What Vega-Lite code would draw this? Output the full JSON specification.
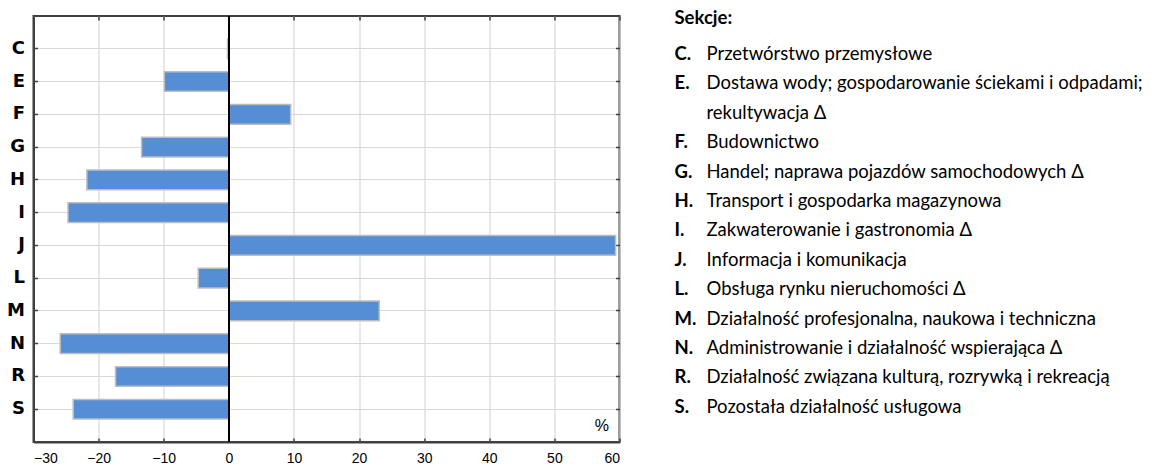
{
  "$schema": "https://vega.github.io/schema/vega-lite/v6.json",
  "padding": {"left": 5.5, "top": 9, "right": 0, "bottom": 0},
  "background": "white",
  "config": {"view": {"stroke": null}, "concat": {"spacing": 53}},
  "hconcat": [
    {
      "width": 586,
      "height": 426,
      "view": {"stroke": "#404040", "strokeWidth": 2},
      "data": {"values": [
        {"cat": "C", "value": -0.2},
        {"cat": "E", "value": -9.9},
        {"cat": "F", "value": 9.5},
        {"cat": "G", "value": -13.4},
        {"cat": "H", "value": -21.8},
        {"cat": "I", "value": -24.7},
        {"cat": "J", "value": 59.4},
        {"cat": "L", "value": -4.7},
        {"cat": "M", "value": 23.1},
        {"cat": "N", "value": -25.9},
        {"cat": "R", "value": -17.4},
        {"cat": "S", "value": -23.9}
      ]},
      "resolve": {"axis": {"x": "independent", "y": "independent"}},
      "layer": [
        {
          "mark": {"type": "bar", "color": "#558ED5", "stroke": "#BDBDBD", "strokeWidth": 1.5},
          "encoding": {
            "x": {"field": "value", "type": "quantitative",
              "scale": {"domain": [-30, 60], "nice": false, "zero": false},
              "axis": {"values": [-30, -20, -10, 0, 10, 20, 30, 40, 50, 60], "title": null,
                "grid": true, "gridColor": "#D9D9D9", "gridWidth": 1.2,
                "domainColor": "#404040", "domainWidth": 2,
                "tickColor": "#404040", "tickSize": -4, "tickWidth": 1.5,
                "labelFont": "Liberation Sans", "labelFontSize": 14, "labelColor": "#000000",
                "labelPadding": 13}},
            "y": {"field": "cat", "type": "nominal", "sort": null,
              "scale": {"paddingInner": 0.4, "paddingOuter": 0.7},
              "axis": {"title": null, "grid": true, "gridColor": "#D9D9D9", "gridWidth": 1.2,
                "domainColor": "#404040", "domainWidth": 2,
                "tickColor": "#404040", "tickSize": -4, "tickWidth": 1.5,
                "labelFont": "DejaVu Sans", "labelFontWeight": "bold", "labelFontSize": 18,
                "labelColor": "#000000", "labelPadding": 13}}
          }
        },
        {
          "mark": {"type": "rule", "color": "#000000", "strokeWidth": 1.2},
          "encoding": {
            "x": {"datum": 0, "type": "quantitative",
              "axis": {"orient": "top", "labels": false, "grid": false, "domain": false,
                "values": [-30, -20, -10, 0, 10, 20, 30, 40, 50, 60],
                "tickColor": "#404040", "tickSize": -4, "tickWidth": 1.5, "title": null}}
          }
        },
        {
          "data": {"values": [{"unit": "%", "cat": "S", "value": 57.3}]},
          "mark": {"type": "text", "font": "Liberation Sans", "fontSize": 16, "color": "#000000", "dy": 17, "align": "center", "baseline": "middle"},
          "encoding": {
            "x": {"field": "value", "type": "quantitative", "axis": null},
            "y": {"field": "cat", "type": "nominal",
              "axis": {"orient": "right", "labels": false, "grid": false, "domain": false,
                "tickColor": "#404040", "tickSize": -4, "tickWidth": 1.5, "title": null}},
            "text": {"field": "unit"}
          }
        }
      ]
    },
    {
      "width": 448,
      "height": 426,
      "data": {"values": [
        {"letter": "Sekcje:", "desc": "", "line": -1.22},
        {"letter": "C.", "desc": "Przetwórstwo przemysłowe", "line": 0},
        {"letter": "E.", "desc": "Dostawa wody; gospodarowanie ściekami i odpadami;", "line": 1},
        {"letter": "", "desc": "rekultywacja Δ", "line": 2},
        {"letter": "F.", "desc": "Budownictwo", "line": 3},
        {"letter": "G.", "desc": "Handel; naprawa pojazdów samochodowych Δ", "line": 4},
        {"letter": "H.", "desc": "Transport i gospodarka magazynowa", "line": 5},
        {"letter": "I.", "desc": "Zakwaterowanie i gastronomia Δ", "line": 6},
        {"letter": "J.", "desc": "Informacja i komunikacja", "line": 7},
        {"letter": "L.", "desc": "Obsługa rynku nieruchomości Δ", "line": 8},
        {"letter": "M.", "desc": "Działalność profesjonalna, naukowa i techniczna", "line": 9},
        {"letter": "N.", "desc": "Administrowanie i działalność wspierająca Δ", "line": 10},
        {"letter": "R.", "desc": "Działalność związana kulturą, rozrywką i rekreacją", "line": 11},
        {"letter": "S.", "desc": "Pozostała działalność usługowa", "line": 12}
      ]},
      "layer": [
        {
          "mark": {"type": "text", "font": "Lato", "fontWeight": "bold", "fontSize": 18.5, "color": "#000000", "align": "left", "baseline": "middle"},
          "encoding": {
            "x": {"datum": 0, "type": "quantitative", "scale": {"domain": [0, 14], "nice": false, "zero": false}, "axis": null},
            "y": {"field": "line", "type": "quantitative", "scale": {"domain": [-1.293, 13.197], "nice": false, "zero": false, "reverse": true}, "axis": null},
            "text": {"field": "letter"}
          }
        },
        {
          "mark": {"type": "text", "font": "Lato", "fontSize": 18.5, "color": "#000000", "align": "left", "baseline": "middle"},
          "encoding": {
            "x": {"datum": 1, "type": "quantitative", "axis": null},
            "y": {"field": "line", "type": "quantitative", "axis": null},
            "text": {"field": "desc"}
          }
        }
      ]
    }
  ]
}
